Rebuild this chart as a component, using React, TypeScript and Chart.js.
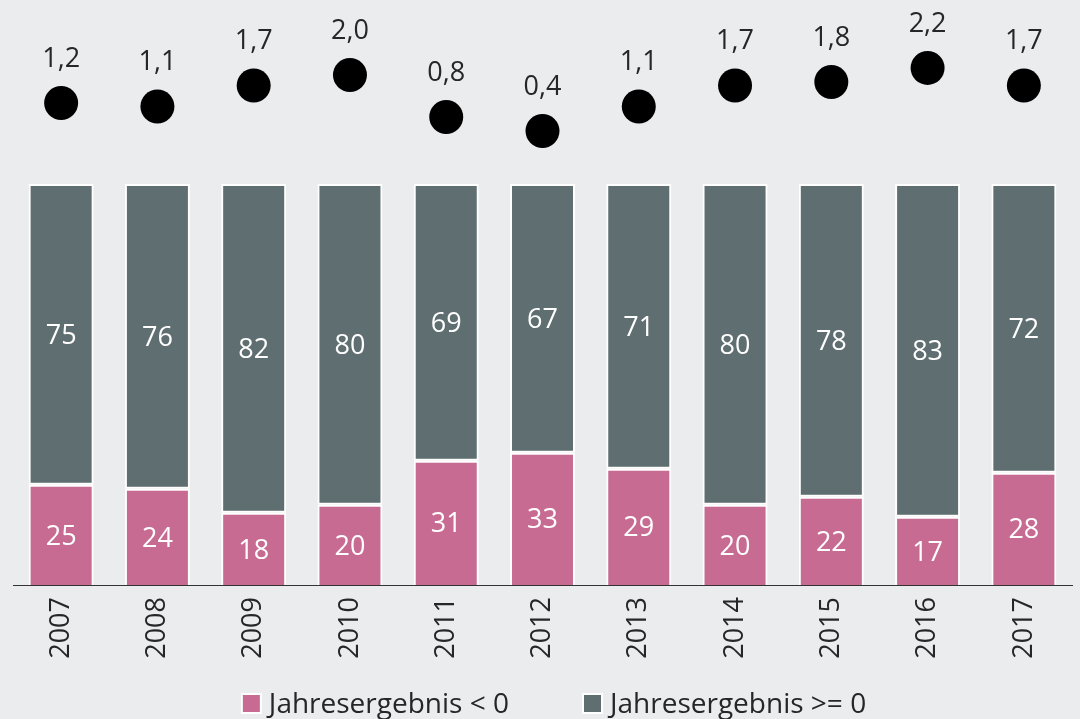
import React, { useEffect, useRef } from "react";
import { Chart, registerables } from "chart.js";

Chart.register(...registerables);

const categories = ["2007", "2008", "2009", "2010", "2011", "2012", "2013", "2014", "2015", "2016", "2017"];
const negativeShare = [25, 24, 18, 20, 31, 33, 29, 20, 22, 17, 28];
const positiveShare = [75, 76, 82, 80, 69, 67, 71, 80, 78, 83, 72];
const dotValues = [1.2, 1.1, 1.7, 2.0, 0.8, 0.4, 1.1, 1.7, 1.8, 2.2, 1.7];
const seriesLabels = ["Jahresergebnis < 0", "Jahresergebnis >= 0"];

const PINK = "#c86b93";
const GRAY = "#5f6e71";
const BG = "#ebecee";
const TEXT = "#262626";
const FONT_FAMILY = '"Open Sans", "Noto Sans", sans-serif';
const FONT_SIZE = 27;
const LEGEND_FONT_SIZE = 28;
const CAP_OFFSET = FONT_SIZE * 0.357;

const labelPlugin = {
  id: "valueLabels",
  afterDatasetsDraw(chart: any) {
    const ctx = chart.ctx;
    ctx.save();
    ctx.font = `${FONT_SIZE}px ${FONT_FAMILY}`;
    ctx.textAlign = "center";
    ctx.textBaseline = "alphabetic";
    chart.data.datasets.forEach((ds: any, di: number) => {
      const meta = chart.getDatasetMeta(di);
      meta.data.forEach((el: any, i: number) => {
        const v = ds.data[i];
        if (meta.type === "bar") {
          const p = el.getProps(["x", "y", "base"], true);
          ctx.fillStyle = "#ffffff";
          ctx.fillText(String(v), p.x, (p.y + p.base) / 2 + CAP_OFFSET);
        } else {
          const p = el.getProps(["x", "y"], true);
          ctx.fillStyle = TEXT;
          ctx.fillText(v.toFixed(1).replace(".", ","), p.x, p.y - 46 + CAP_OFFSET);
        }
      });
    });
    ctx.restore();
  },
  afterDraw(chart: any) {
    const ctx = chart.ctx;
    ctx.save();
    ctx.font = `${LEGEND_FONT_SIZE}px ${FONT_FAMILY}`;
    ctx.textBaseline = "alphabetic";
    ctx.textAlign = "left";
    const items = [
      { text: seriesLabels[0], color: PINK },
      { text: seriesLabels[1], color: GRAY },
    ];
    const box = 19;
    const gapBoxText = 8;
    const gapItems = 74;
    const widths = items.map((it) => box + gapBoxText + ctx.measureText(it.text).width);
    const total = widths.reduce((a, b) => a + b, 0) + gapItems * (items.length - 1);
    let x = chart.width / 2 + 14 - total / 2;
    const cy = 703.5;
    items.forEach((it, i) => {
      ctx.fillStyle = it.color;
      ctx.fillRect(x, cy - box / 2, box, box);
      ctx.strokeStyle = "#ffffff";
      ctx.lineWidth = 2;
      ctx.strokeRect(x, cy - box / 2, box, box);
      ctx.fillStyle = TEXT;
      ctx.fillText(it.text, x + box + gapBoxText, cy + LEGEND_FONT_SIZE * 0.357);
      x += widths[i] + gapItems;
    });
    ctx.restore();
  },
};

export default function App() {
  const canvasRef = useRef<HTMLCanvasElement | null>(null);

  useEffect(() => {
    if (!canvasRef.current) return;
    const chart = new Chart(canvasRef.current, {
      type: "bar",
      data: {
        labels: categories,
        datasets: [
          {
            type: "line",
            label: "Wert",
            data: dotValues,
            yAxisID: "y2",
            showLine: false,
            pointRadius: 17,
            pointHoverRadius: 17,
            pointBackgroundColor: "#000000",
            pointBorderColor: "#000000",
            pointBorderWidth: 0,
            order: 0,
          } as any,
          {
            type: "bar",
            label: seriesLabels[0],
            data: negativeShare,
            backgroundColor: PINK,
            borderColor: "#ffffff",
            borderWidth: { top: 2, left: 2, right: 2, bottom: 0 },
            borderSkipped: false,
            yAxisID: "y",
            stack: "s",
            order: 1,
          },
          {
            type: "bar",
            label: seriesLabels[1],
            data: positiveShare,
            backgroundColor: GRAY,
            borderColor: "#ffffff",
            borderWidth: 2,
            borderSkipped: false,
            yAxisID: "y",
            stack: "s",
            order: 1,
          },
        ],
      },
      options: {
        animation: false,
        responsive: true,
        maintainAspectRatio: false,
        layout: { autoPadding: false, padding: { left: 13, right: 8, top: 0, bottom: 0 } },
        datasets: {
          bar: { categoryPercentage: 1, barPercentage: 0.675 },
        },
        plugins: {
          legend: { display: false },
          tooltip: { enabled: false },
        },
        scales: {
          x: {
            stacked: true,
            grid: { display: false, drawTicks: false },
            border: { display: true, color: "#333333", width: 1 },
            ticks: {
              minRotation: 90,
              maxRotation: 90,
              padding: 12,
              color: TEXT,
              font: { family: FONT_FAMILY, size: FONT_SIZE },
            },
            afterFit: (scale: any) => {
              scale.height = 134;
            },
          },
          y: {
            stacked: true,
            display: false,
            min: 0,
            max: (100 * 585) / 401,
          },
          y2: {
            display: false,
            min: -12.57,
            max: 4.14,
          },
        },
      },
      plugins: [labelPlugin],
    });
    return () => chart.destroy();
  }, []);

  return (
    <div
      style={{
        position: "fixed",
        left: 0,
        top: 0,
        width: 1080,
        height: 719,
        background: BG,
      }}
    >
      <canvas ref={canvasRef} />
    </div>
  );
}
